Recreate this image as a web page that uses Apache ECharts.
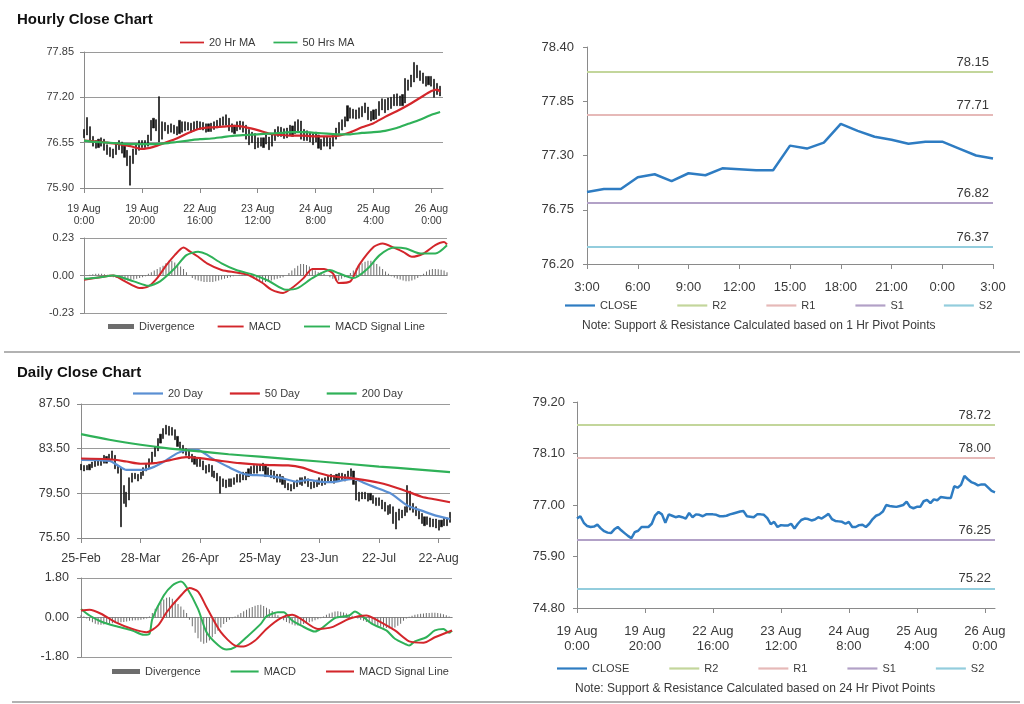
<!DOCTYPE html>
<html><head><meta charset="utf-8">
<script src="https://cdn.jsdelivr.net/npm/echarts@6/dist/echarts.min.js"></script>
<style>html,body{margin:0;padding:0;background:#fff}#c{width:1024px;height:704px}</style>
</head><body><div id="c"></div>
<script>
// ---------- Hourly data (19 Aug 0:00 -> 26 Aug 3:00) ----------
const hourTickLabels = ['19 Aug\n0:00','19 Aug\n20:00','22 Aug\n16:00','23 Aug\n12:00','24 Aug\n8:00','25 Aug\n4:00','26 Aug\n0:00'];
const hourClose = [76.71,76.76,76.62,76.55,76.53,76.54,76.58,76.50,76.44,76.41,
 76.40,76.48,76.53,76.46,76.40,76.34,76.29,76.42,76.45,76.53,
 76.53,76.53,76.60,76.78,76.85,76.80,76.62,76.80,76.77,76.74,
 76.76,76.74,76.71,76.83,76.74,76.80,76.79,76.76,76.80,76.80,
 76.80,76.79,76.76,76.76,76.77,76.80,76.82,76.84,76.86,76.87,
 76.76,76.75,76.74,76.80,76.80,76.79,76.72,76.59,76.64,76.53,
 76.57,76.56,76.56,76.60,76.50,76.60,76.68,76.71,76.70,76.67,
 76.69,76.74,76.71,76.76,76.81,76.70,76.66,76.65,76.64,76.60,
 76.64,76.53,76.53,76.57,76.58,76.53,76.60,76.70,76.77,76.80,
 76.86,77.00,76.98,76.97,76.96,76.98,77.00,77.07,76.96,76.93,
 76.96,76.96,77.08,77.11,77.04,77.12,77.10,77.17,77.16,77.15,
 77.15,77.40,77.37,77.43,77.62,77.55,77.49,77.46,77.42,77.44,
 77.44,77.37,77.30,77.27];
const hourHigh = [76.74,76.91,76.78,76.64,76.58,76.60,76.62,76.60,76.52,76.48,
 76.46,76.53,76.58,76.56,76.50,76.44,76.36,76.46,76.52,76.58,
 76.58,76.58,76.66,76.87,76.90,76.88,77.21,76.85,76.84,76.80,
 76.82,76.80,76.78,76.87,76.85,76.85,76.84,76.83,76.85,76.86,
 76.85,76.84,76.82,76.82,76.83,76.85,76.87,76.90,76.92,76.95,
 76.90,76.82,76.80,76.85,76.86,76.85,76.80,76.74,76.70,76.68,
 76.62,76.62,76.62,76.66,76.63,76.66,76.74,76.78,76.77,76.75,
 76.76,76.80,76.79,76.85,76.88,76.86,76.74,76.72,76.70,76.68,
 76.70,76.66,76.60,76.63,76.64,76.62,76.66,76.76,76.84,76.88,
 76.92,77.08,77.05,77.03,77.02,77.05,77.07,77.12,77.06,77.00,
 77.02,77.03,77.14,77.18,77.17,77.19,77.20,77.24,77.25,77.22,
 77.24,77.47,77.45,77.52,77.70,77.66,77.58,77.55,77.50,77.50,
 77.50,77.46,77.40,77.36];
const hourLow = [76.62,76.66,76.58,76.50,76.47,76.48,76.50,76.44,76.38,76.35,
 76.33,76.38,76.45,76.40,76.34,76.22,75.94,76.25,76.38,76.44,
 76.48,76.48,76.50,76.58,76.76,76.72,76.56,76.60,76.72,76.68,
 76.70,76.68,76.66,76.68,76.70,76.72,76.73,76.70,76.72,76.74,
 76.74,76.73,76.70,76.71,76.71,76.74,76.76,76.78,76.80,76.80,
 76.72,76.70,76.68,76.72,76.74,76.70,76.60,76.52,76.55,76.46,
 76.48,76.50,76.48,76.53,76.45,76.50,76.58,76.64,76.64,76.61,
 76.62,76.66,76.64,76.68,76.72,76.60,76.58,76.58,76.56,76.52,
 76.56,76.47,76.45,76.50,76.50,76.46,76.50,76.60,76.68,76.73,
 76.78,76.86,76.90,76.90,76.89,76.90,76.92,76.98,76.88,76.86,
 76.88,76.89,76.94,77.02,76.98,77.02,77.04,77.08,77.08,77.08,
 77.08,77.12,77.30,77.35,77.42,77.48,77.44,77.40,77.36,77.38,
 77.36,77.20,77.24,77.22];
// moving averages: [hour index, value]
const ma20Hour = [[0,76.58],[4,76.57],[8,76.55],[12,76.53],[16,76.50],[20,76.46],[24,76.49],[28,76.55],[32,76.61],[36,76.69],[40,76.75],[44,76.77],[48,76.78],[52,76.79],[56,76.77],[60,76.73],[64,76.68],[68,76.66],[72,76.65],[76,76.65],[80,76.64],[84,76.64],[88,76.65],[92,76.70],[96,76.77],[100,76.83],[104,76.92],[108,77.00],[112,77.09],[116,77.19],[120,77.29],[122,77.31],[123,77.28]];
const ma50Hour = [[0,76.58],[4,76.56],[8,76.55],[12,76.54],[16,76.53],[20,76.53],[24,76.53],[28,76.54],[32,76.56],[36,76.58],[40,76.60],[44,76.61],[48,76.63],[52,76.65],[56,76.66],[60,76.67],[64,76.68],[68,76.69],[72,76.70],[76,76.70],[80,76.69],[84,76.68],[88,76.67],[92,76.67],[96,76.69],[100,76.70],[104,76.72],[108,76.76],[112,76.82],[116,76.88],[120,76.95],[123,76.99]];
const macdHour = [[0,-0.026],[5,-0.012],[10,0],[14,-0.036],[19,-0.077],[22,-0.067],[25,-0.016],[28,0.06],[31,0.125],[34,0.171],[36,0.15],[39,0.115],[42,0.075],[47,0.034],[52,0.018],[56,0.004],[61,-0.046],[64,-0.087],[68,-0.107],[71,-0.077],[75,-0.016],[78,0.04],[82,0.04],[85,0.014],[87,-0.046],[91,-0.036],[94,0.065],[99,0.176],[102,0.196],[106,0.169],[109,0.145],[112,0.115],[116,0.135],[120,0.186],[123,0.205],[124,0.19]];
const signalHour = [[0,-0.02],[5,-0.012],[10,0],[17,-0.036],[22,-0.063],[26,-0.036],[31,0.044],[35,0.125],[39,0.145],[42,0.129],[47,0.075],[52,0.034],[58,0.004],[63,-0.032],[69,-0.087],[73,-0.077],[78,-0.016],[84,0.034],[87,0.014],[92,-0.016],[97,0.044],[101,0.125],[106,0.171],[110,0.165],[115,0.135],[120,0.135],[124,0.186]];
const divHour = [0,0,0.005,0.008,0.01,0.01,0.01,0.008,0.005,
 -0.005,-0.01,-0.015,-0.02,-0.025,-0.03,-0.03,-0.028,-0.025,-0.02,-0.015,-0.01,-0.005,
 0.01,0.02,0.03,0.04,0.05,0.06,0.075,0.09,0.09,0.08,0.07,0.055,0.04,
 0.02,0.0,
 -0.015,-0.025,-0.03,-0.035,-0.04,-0.04,-0.04,-0.04,-0.035,-0.03,-0.025,-0.02,-0.015,-0.01,
 -0.005,0,0.005,0.005,0.005,0,
 -0.01,-0.02,-0.03,-0.035,-0.04,-0.04,-0.035,-0.03,-0.025,-0.02,-0.015,-0.01,
 0.0,0.015,0.03,0.045,0.06,0.07,0.07,0.065,0.055,0.04,0.03,0.02,
 0.02,0.01,0.0,-0.01,-0.02,-0.03,-0.03,-0.02,-0.01,0.0,
 0.015,0.03,0.045,0.06,0.075,0.085,0.09,0.09,0.08,0.07,0.055,0.04,0.025,0.01,
 -0.005,-0.012,-0.02,-0.025,-0.03,-0.035,-0.035,-0.03,-0.025,-0.015,-0.005,
 0.01,0.025,0.035,0.04,0.04,0.038,0.035,0.03,0.02];

// ---------- 1 Hr pivot panel ----------
const pivotHourLabels = ['3:00','4:00','5:00','6:00','7:00','8:00','9:00','10:00','11:00','12:00','13:00','14:00','15:00','16:00','17:00','18:00','19:00','20:00','21:00','22:00','23:00','0:00','1:00','2:00','3:00'];
const pivot1h = {R2: 78.15, R1: 77.71, S1: 76.82, S2: 76.37};
const pivot24h = {R2: 78.72, R1: 78.00, S1: 76.25, S2: 75.22};

// ---------- Daily data ----------
const dayTickLabels = ['25-Feb','28-Mar','26-Apr','25-May','23-Jun','22-Jul','22-Aug'];
const dayHigh = [82.1,82.0,82.0,82.1,82.3,82.4,82.6,82.5,82.9,82.8,
 83.0,83.3,82.9,82.0,81.8,80.2,79.6,80.9,81.3,81.3,
 81.2,81.4,81.8,82.1,82.6,83.2,83.7,84.4,84.8,85.3,
 85.6,85.5,85.4,85.2,84.6,84.1,83.8,83.5,83.3,83.0,
 82.8,82.6,82.7,82.4,82.0,82.1,82.0,81.5,81.3,81.0,
 80.8,80.7,80.8,80.8,80.9,81.2,81.2,81.4,81.4,81.7,
 81.9,82.0,82.0,82.1,82.2,82.0,81.8,81.6,81.5,81.2,
 81.2,81.0,80.7,80.4,80.3,80.5,80.7,80.9,80.9,81.0,
 80.8,80.5,80.6,80.7,80.9,80.8,80.9,81.1,81.2,81.1,
 81.2,81.3,81.3,81.2,81.5,81.7,81.5,80.6,79.6,79.6,
 79.6,79.5,79.5,79.3,79.1,79.1,78.9,78.7,78.4,78.5,
 78.3,77.8,78.1,78.0,78.3,80.2,79.7,78.6,78.3,78.0,
 77.7,77.4,77.4,77.3,77.2,77.2,77.1,77.1,77.3,77.3,77.8];
const dayLow = [81.6,81.5,81.6,81.6,81.8,81.9,82.0,82.0,82.2,82.2,
 82.4,82.5,81.7,81.3,76.5,78.6,78.3,78.9,80.5,80.8,
 80.6,80.8,81.1,81.5,81.8,82.2,82.8,83.3,84.0,84.4,
 84.8,84.7,84.7,84.3,83.7,83.4,83.1,82.9,82.6,82.3,
 82.1,81.9,81.9,81.6,81.3,81.4,81.0,80.9,80.6,79.5,
 80.1,80.0,80.1,80.1,80.3,80.5,80.5,80.7,80.7,81.0,
 81.2,81.3,81.3,81.5,81.5,81.0,81.1,80.9,80.8,80.5,
 80.5,80.3,80.0,79.8,79.7,79.9,80.1,80.3,80.2,80.4,
 80.1,79.9,80.0,80.1,80.3,80.2,80.3,80.5,80.6,80.4,
 80.6,80.7,80.7,80.6,80.9,81.0,80.3,78.9,78.8,79.0,
 79.0,78.8,78.9,78.6,78.4,78.4,78.1,77.9,77.6,77.7,
 76.8,76.3,77.1,77.3,77.5,77.8,78.0,77.8,77.5,77.2,
 76.8,76.6,76.7,76.5,76.5,76.4,76.2,76.5,76.6,76.6,76.9];
const ma20Day = [[0,82.5],[10,82.4],[13,82.0],[16,81.6],[22,81.6],[26,81.9],[29,82.3],[34,83.1],[38,83.4],[41,83.4],[46,82.65],[52,81.85],[58,81.2],[64,81.1],[70,80.9],[76,80.55],[80,80.7],[84,80.55],[88,80.5],[92,80.65],[96,80.8],[100,80.4],[103,80.1],[109,79.5],[115,78.4],[120,77.95],[125,77.5],[130,77.2]];
const ma50Day = [[0,82.62],[10,82.55],[16,82.35],[21,82.15],[26,82.2],[31,82.45],[37,82.75],[42,82.65],[48,82.45],[56,82.2],[64,82.05],[73,82.0],[78,81.8],[82,81.45],[88,81.05],[97,80.8],[105,80.45],[113,79.85],[120,79.2],[125,78.95],[130,78.7]];
const ma200Day = [[0,84.8],[10,84.3],[21,83.85],[30,83.55],[42,83.25],[52,83.0],[63,82.78],[84,82.35],[105,81.9],[118,81.65],[130,81.4]];
const macdDay = [[0,0.39],[3,0.09],[7,-0.18],[12,-0.39],[18,-0.59],[22,-0.79],[24,-0.74],[25,-0.06],[29,1.0],[32,1.46],[35,1.64],[37,1.38],[41,0.39],[44,-0.67],[48,-1.25],[51,-1.46],[54,-1.35],[58,-0.9],[63,-0.29],[65,0.05],[69,0.24],[71,0.24],[74,-0.14],[77,-0.36],[82,-0.64],[84,-0.52],[89,-0.03],[94,0.09],[96,0.27],[98,0.12],[102,-0.29],[107,-0.59],[110,-0.97],[114,-1.23],[115,-1.28],[117,-1.09],[121,-0.9],[124,-0.59],[127,-0.52],[129,-0.7],[130,-0.6]];
const signalDay = [[0,0.32],[3,0.35],[7,0.17],[12,-0.21],[18,-0.52],[23,-0.67],[27,-0.36],[30,0.24],[35,1.0],[38,1.34],[41,1.18],[44,0.47],[49,-0.67],[54,-1.28],[57,-1.32],[61,-1.05],[65,-0.52],[70,-0.03],[74,0.12],[77,-0.06],[83,-0.52],[88,-0.44],[94,-0.06],[100,0.09],[104,-0.14],[110,-0.59],[115,-1.09],[120,-1.15],[124,-0.9],[130,-0.59]];
const divDay = [0.1,0.05,-0.05,
 -0.15,-0.22,-0.28,-0.32,-0.33,-0.32,-0.3,-0.28,-0.26,-0.25,-0.24,-0.22,-0.2,-0.18,-0.15,-0.14,-0.13,-0.12,-0.1,-0.08,-0.05,
 0.05,0.2,0.4,0.55,0.7,0.82,0.9,0.92,0.85,0.75,0.62,0.5,0.35,0.2,
 -0.1,-0.4,-0.7,-0.95,-1.1,-1.2,-1.15,-1.05,-0.9,-0.75,-0.6,-0.45,-0.3,-0.2,-0.1,-0.03,
 0.05,0.12,0.2,0.28,0.35,0.42,0.48,0.53,0.57,0.58,0.52,0.45,0.38,0.3,0.2,0.1,
 -0.05,-0.12,-0.2,-0.26,-0.32,-0.36,-0.36,-0.34,-0.3,-0.26,-0.22,-0.18,-0.13,-0.08,-0.03,
 0.05,0.12,0.18,0.23,0.27,0.28,0.26,0.23,0.18,0.13,0.08,0.03,
 -0.05,-0.1,-0.15,-0.2,-0.25,-0.3,-0.34,-0.38,-0.42,-0.45,-0.48,-0.5,-0.5,-0.46,-0.38,-0.28,-0.15,
 -0.05,0.03,0.08,0.12,0.15,0.17,0.18,0.2,0.21,0.22,0.22,0.2,0.18,0.15,0.1,0.05,0.02];

// ---------- build categories ----------
const hourCats = Array.from({length: 125}, (_, i) => i % 20 === 0 ? hourTickLabels[i / 20] : '');
const hourCats6 = hourCats.slice(0, 124);
const dayCats = Array.from({length: 131}, (_, i) => i % 21 === 0 ? dayTickLabels[i / 21] : '');
const pivotHourClose = hourClose.slice(99);

const F = '"Liberation Sans", Arial, sans-serif';
const AXC = '#8a8a8a', TXT = '#3a3a3a';
const RED = '#d3262b', GRN = '#2fb158', BLUE = '#5a8fd3';
const CLOSE_C = '#2e7cc2', R2C = '#c3d69b', R1C = '#e6b9b8', S1C = '#b2a1c7', S2C = '#93cddd';
const LINE_ICON = 'path://M0,0H30V2.2H0Z';

function xCat(gi, cats, interval, fs, margin, show, lh) {
  return {type: 'category', gridIndex: gi, data: cats, boundaryGap: false,
    axisLine: {show: true, onZero: true, lineStyle: {color: AXC, width: 1}},
    axisTick: {show: show, interval: interval, length: 5, lineStyle: {color: AXC}},
    axisLabel: {show: show, interval: interval, fontSize: fs, margin: margin, color: TXT, fontFamily: F, lineHeight: lh},
    splitLine: {show: false}};
}
function yVal(gi, min, max, interval, fs, margin, split) {
  return {type: 'value', gridIndex: gi, min: min, max: max, interval: interval,
    axisLine: {show: true, lineStyle: {color: AXC}},
    axisTick: {show: true, length: 4, lineStyle: {color: AXC}},
    axisLabel: {fontSize: fs, margin: margin, color: TXT, fontFamily: F, formatter: v => v.toFixed(2)},
    splitLine: {show: split, lineStyle: {color: '#9a9a9a', width: 1}}};
}
function lineS(name, xi, data, color, width, extra) {
  return Object.assign({name: name, type: 'line', xAxisIndex: xi, yAxisIndex: xi, data: data,
    symbol: 'none', smooth: 0.25, lineStyle: {color: color, width: width}, itemStyle: {color: color}, z: 3}, extra || {});
}
function pivotS(name, xi, value, color) {
  return {name: name, type: 'line', xAxisIndex: xi, yAxisIndex: xi, data: [], symbol: 'none',
    lineStyle: {color: color, width: 2}, itemStyle: {color: color},
    markLine: {silent: true, symbol: 'none', data: [{yAxis: value}],
      lineStyle: {color: color, width: 2, type: 'solid'},
      label: {show: true, position: 'insideEndTop', distance: [4, 3], color: TXT, fontSize: 13, fontFamily: F,
        formatter: p => Number(p.value).toFixed(2)}}};
}
function li(name, color) { // legend item drawn as a short line
  const o = {name: name, icon: LINE_ICON};
  if (color) o.itemStyle = {color: color};
  return o;
}
function legend(data, left, top, iw, gap) {
  return {data: data, left: left, top: top, itemWidth: iw, itemGap: gap, itemHeight: 5, selectedMode: false,
    textStyle: {fontSize: 11, color: TXT, fontFamily: F}, padding: 0};
}
const candleStyle = {color: '#111', color0: '#111', borderColor: '#111', borderColor0: '#111', borderWidth: 0.6};

const option = {
  animation: false,
  backgroundColor: '#fff',
  title: [
    {text: 'Hourly Close Chart', left: 12, top: 7, textStyle: {fontSize: 15, fontWeight: 'bold', color: '#111', fontFamily: F}},
    {text: 'Daily Close Chart', left: 12, top: 360, textStyle: {fontSize: 15, fontWeight: 'bold', color: '#111', fontFamily: F}},
    {text: 'Note: Support & Resistance Calculated based on 1 Hr Pivot Points', left: 582, top: 320, padding: 0, textStyle: {fontSize: 12, fontWeight: 'normal', color: TXT, fontFamily: F}},
    {text: 'Note: Support & Resistance Calculated based on 24 Hr Pivot Points', left: 575, top: 683, padding: 0, textStyle: {fontSize: 12, fontWeight: 'normal', color: TXT, fontFamily: F}}
  ],
  graphic: [
    {type: 'line', shape: {x1: 4, y1: 352, x2: 1020, y2: 352}, style: {stroke: '#999', lineWidth: 1.5}},
    {type: 'line', shape: {x1: 12, y1: 702, x2: 1020, y2: 702}, style: {stroke: '#999', lineWidth: 1.5}}
  ],
  legend: [
    legend([li('20 Hr MA'), li('50 Hrs MA')], 180, 37, 24, 18),
    legend([{name: 'Divergence', icon: 'rect'}, li('MACD', RED), li('MACD Signal Line', GRN)], 108, 321, 26, 23),
    legend(['CLOSE', 'R2', 'R1', 'S1', 'S2'].map(n => li(n)), 565, 300, 30, 40),
    legend([li('20 Day'), li('50 Day'), li('200 Day')], 133, 388, 30, 27),
    legend([{name: 'Divergence', icon: 'rect'}, li('MACD', GRN), li('MACD Signal Line', RED)], 112, 666, 28, 30),
    legend(['CLOSE', 'R2', 'R1', 'S1', 'S2'].map(n => li(n)), 557, 663, 30, 40)
  ],
  grid: [
    {left: 84, top: 52, width: 359, height: 136},
    {left: 84, top: 238, width: 363, height: 75},
    {left: 587, top: 47, width: 406, height: 217},
    {left: 81, top: 404, width: 369, height: 134},
    {left: 81, top: 578, width: 371, height: 79},
    {left: 577, top: 402, width: 418, height: 206}
  ],
  xAxis: [
    xCat(0, hourCats, 19, 10.5, 15, true, 12),
    xCat(1, hourCats, 19, 10, 8, false, 12),
    xCat(2, pivotHourLabels, 2, 13, 16, true, 15),
    xCat(3, dayCats, 20, 12.5, 13, true, 15),
    xCat(4, dayCats, 20, 12, 8, false, 15),
    xCat(5, hourCats6, 19, 13, 16, true, 15)
  ],
  yAxis: [
    yVal(0, 75.90, 77.85, 0.65, 11, 10, true),
    yVal(1, -0.23, 0.23, 0.23, 11, 10, true),
    yVal(2, 76.20, 78.40, 0.55, 13, 13, false),
    yVal(3, 75.50, 87.50, 4, 12.5, 11, true),
    yVal(4, -1.80, 1.80, 1.80, 12.5, 12, true),
    yVal(5, 74.80, 79.20, 1.10, 13, 12, false)
  ],
  series: [
    // hourly bars
    {type: 'candlestick', xAxisIndex: 0, yAxisIndex: 0, barWidth: 1.6, itemStyle: candleStyle,
     data: hourLow.map((l, i) => [l, hourHigh[i], l, hourHigh[i]]), z: 2},
    lineS('20 Hr MA', 0, ma20Hour, RED, 2.2),
    lineS('50 Hrs MA', 0, ma50Hour, GRN, 2.2),
    // hourly MACD
    {name: 'Divergence', type: 'bar', xAxisIndex: 1, yAxisIndex: 1, data: divHour, barWidth: 1,
     itemStyle: {color: '#6d6d6d'}, z: 2},
    lineS('MACD', 1, macdHour, RED, 2),
    lineS('MACD Signal Line', 1, signalHour, GRN, 2),
    // 1 Hr pivots
    lineS('CLOSE', 2, pivotHourClose, CLOSE_C, 2.5, {smooth: false, z: 4}),
    pivotS('R2', 2, pivot1h.R2, R2C),
    pivotS('R1', 2, pivot1h.R1, R1C),
    pivotS('S1', 2, pivot1h.S1, S1C),
    pivotS('S2', 2, pivot1h.S2, S2C),
    // daily bars
    {type: 'candlestick', xAxisIndex: 3, yAxisIndex: 3, barWidth: 1.6, itemStyle: candleStyle,
     data: dayLow.map((l, i) => [l, dayHigh[i], l, dayHigh[i]]), z: 2},
    lineS('20 Day', 3, ma20Day, BLUE, 2.2),
    lineS('50 Day', 3, ma50Day, RED, 2.2),
    lineS('200 Day', 3, ma200Day, GRN, 2.2),
    // daily MACD
    {name: 'Divergence', type: 'bar', xAxisIndex: 4, yAxisIndex: 4, data: divDay, barWidth: 1,
     itemStyle: {color: '#6d6d6d'}, z: 2},
    lineS('MACD', 4, macdDay, GRN, 2),
    lineS('MACD Signal Line', 4, signalDay, RED, 2),
    // 24 Hr pivots
    lineS('CLOSE', 5, hourClose, CLOSE_C, 2.5, {smooth: false, z: 4}),
    pivotS('R2', 5, pivot24h.R2, R2C),
    pivotS('R1', 5, pivot24h.R1, R1C),
    pivotS('S1', 5, pivot24h.S1, S1C),
    pivotS('S2', 5, pivot24h.S2, S2C)
  ]
};
const chart = echarts.init(document.getElementById('c'), null, {renderer: 'canvas'});
chart.setOption(option);
</script></body></html>
